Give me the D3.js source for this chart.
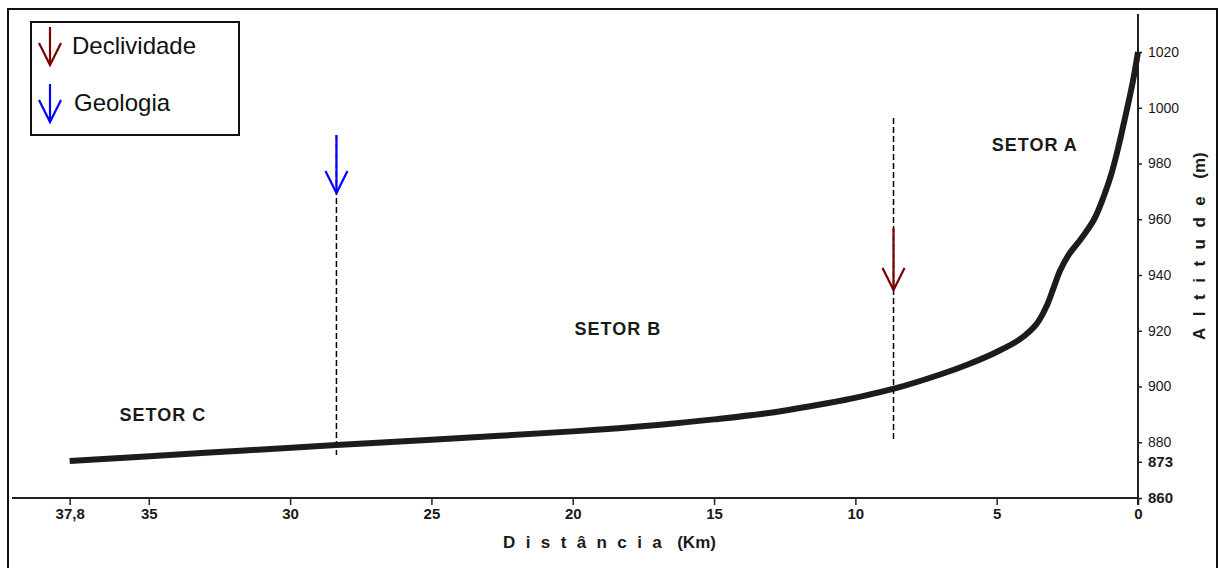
<!DOCTYPE html>
<html>
  <head>
    <meta charset="utf-8">
    <title>Perfil topográfico</title>
    <script src="https://d3js.org/d3.v7.min.js"></script>
    <style>
      body { margin: 0; background: #fff; }
      text { font-family: "Liberation Sans", Arial, sans-serif; fill: #1a1a1a; }
      .axis--x .tick text { font-size: 15px; font-weight: bold; }
      .axis--y .tick text { font-size: 14px; }
      .axis--y .tick text.strong { font-weight: bold; font-size: 15px; }
      .axis .tick line { stroke: #222; stroke-width: 1.5; }
      .sector { font-size: 18px; font-weight: bold; letter-spacing: 1px; }
      .legend text { font-size: 24px; fill: #111; }
      .axis-title { font-size: 17px; font-weight: bold; }
    </style>
  </head>
  <body>
    <svg width="1219" height="568"></svg>
    <script>
      // perfil (distância em km a partir da cabeceira, altitude em m)
      const distKm = [37.8, 33, 28.36, 25, 20, 17, 15, 13, 11, 9.85, 8.6, 7, 6, 5, 4.2,
        3.6, 3.25, 3.0, 2.76, 2.45, 2.0, 1.55, 1.2, 0.95, 0.74, 0.39, 0.18, 0];
      const altitude = [873.3, 876.2, 879.0, 880.9, 883.9, 886.2, 888.2, 890.6, 894.0, 896.3, 899.3,
        904.3, 908.0, 912.4, 916.8, 922.3, 928.5, 935.0, 941.5, 947.3, 953.2, 960.0, 968.5, 976.0,
        984.0, 999.5, 1009.5, 1020];

      const xTicks = [37.8, 35, 30, 25, 20, 15, 10, 5, 0];
      const yTicks = [860, 873, 880, 900, 920, 940, 960, 980, 1000, 1020];
      const yStrong = [860, 873];

      // marcadores (linhas tracejadas com seta)
      const markerNames = ["Geologia", "Declividade"];
      const markerColors = ["#0000ff", "#7a0000"];
      const markerKm = [28.36, 8.65];
      const markerLineTop = [990.2, 996.3];
      const markerLineBottom = [875.4, 880.8];
      const arrowTop = [990.2, 956.9];
      const arrowTip = [969.4, 934.6];

      const sectorNames = ["SETOR A", "SETOR B", "SETOR C"];
      const sectorKm = [3.65, 18.4, 34.5];
      const sectorAlt = [986.3, 920.3, 889.4];

      const legendNames = ["Declividade", "Geologia"];
      const legendColors = ["#7a0000", "#0000ff"];

      const svg = d3.select("svg");

      const x = d3.scaleLinear().domain([38, 0]).range([64, 1138]);
      const y = d3.scaleLinear().domain([860, 1020]).range([498, 52]);

      // moldura externa
      svg.append("rect")
        .attr("x", 8).attr("y", 9)
        .attr("width", 1209).attr("height", 580)
        .attr("fill", "none")
        .attr("stroke", "#111")
        .attr("stroke-width", 2);

      // eixos
      const xAxisG = svg.append("g")
        .attr("class", "axis axis--x")
        .attr("transform", `translate(0, ${y(860)})`)
        .call(d3.axisBottom(x)
          .tickValues(xTicks)
          .tickSize(7)
          .tickPadding(3)
          .tickFormat(d => String(d).replace(".", ",")));
      xAxisG.select(".domain").remove();

      const yAxisG = svg.append("g")
        .attr("class", "axis axis--y")
        .attr("transform", `translate(${x(0)}, 0)`)
        .call(d3.axisRight(y)
          .tickValues(yTicks)
          .tickSize(4)
          .tickPadding(6)
          .tickFormat(d3.format("d")));
      yAxisG.select(".domain").remove();
      yAxisG.selectAll(".tick text")
        .classed("strong", d => yStrong.includes(d));

      svg.append("line")
        .attr("x1", 12).attr("x2", x(0))
        .attr("y1", y(860)).attr("y2", y(860))
        .attr("stroke", "#222").attr("stroke-width", 2);
      svg.append("line")
        .attr("x1", x(0)).attr("x2", x(0))
        .attr("y1", 14).attr("y2", y(860) + 7)
        .attr("stroke", "#222").attr("stroke-width", 2);

      // títulos dos eixos
      const xTitle = svg.append("text")
        .attr("class", "axis-title")
        .attr("x", 503)
        .attr("y", 548);
      xTitle.append("tspan").attr("letter-spacing", "10.4px").text("Distância");
      xTitle.append("tspan").attr("dx", 5).text("(Km)");

      const yTitle = svg.append("text")
        .attr("class", "axis-title")
        .attr("transform", "translate(1205, 340) rotate(-90)");
      yTitle.append("tspan").attr("letter-spacing", "11.5px").text("Altitude");
      yTitle.append("tspan").attr("dx", 6).text("(m)");

      // linhas tracejadas e setas
      const markers = svg.selectAll(".marker")
        .data(markerNames)
        .enter().append("g")
          .attr("class", "marker");
      markers.append("line")
        .attr("x1", (d, i) => x(markerKm[i]))
        .attr("x2", (d, i) => x(markerKm[i]))
        .attr("y1", (d, i) => y(markerLineTop[i]))
        .attr("y2", (d, i) => y(markerLineBottom[i]))
        .attr("stroke", "#000")
        .attr("stroke-width", 1.5)
        .attr("stroke-dasharray", "6,3");

      function drawArrow(g, cx, top, tip, color) {
        g.append("line")
          .attr("x1", cx).attr("x2", cx)
          .attr("y1", top).attr("y2", tip)
          .attr("stroke", color).attr("stroke-width", 2.2);
        g.append("polyline")
          .attr("points", `${cx - 11},${tip - 22} ${cx},${tip} ${cx + 11},${tip - 22}`)
          .attr("fill", "none")
          .attr("stroke", color)
          .attr("stroke-width", 2.2);
      }
      markers.each(function(d, i) {
        drawArrow(d3.select(this), x(markerKm[i]), y(arrowTop[i]), y(arrowTip[i]), markerColors[i]);
      });

      // perfil
      const line = d3.line()
        .x((d, i) => x(distKm[i]))
        .y(d => y(d))
        .curve(d3.curveCatmullRom.alpha(0.5));
      svg.append("path")
        .datum(altitude)
        .attr("d", line)
        .attr("fill", "none")
        .attr("stroke", "#1c1c1c")
        .attr("stroke-width", 6);

      // setores
      svg.selectAll(".sector")
        .data(sectorNames)
        .enter().append("text")
          .attr("class", "sector")
          .attr("x", (d, i) => x(sectorKm[i]))
          .attr("y", (d, i) => y(sectorAlt[i]))
          .attr("text-anchor", "middle")
          .attr("dominant-baseline", "middle")
          .text(d => d);

      // legenda
      const legendG = svg.append("g")
        .attr("class", "legend")
        .attr("transform", "translate(31, 22)");
      legendG.append("rect")
        .attr("width", 208).attr("height", 113)
        .attr("fill", "#fff")
        .attr("stroke", "#111")
        .attr("stroke-width", 2);
      const items = legendG.selectAll(".legend-item")
        .data(legendNames)
        .enter().append("g")
          .attr("class", "legend-item")
          .attr("transform", (d, i) => `translate(0, ${i * 57})`);
      items.each(function(d, i) {
        drawArrow(d3.select(this), 19, 5, 43, legendColors[i]);
      });
      items.append("text")
        .attr("x", (d, i) => 41 + i * 2)
        .attr("y", 32)
        .text(d => d);
    </script>
  </body>
</html>
